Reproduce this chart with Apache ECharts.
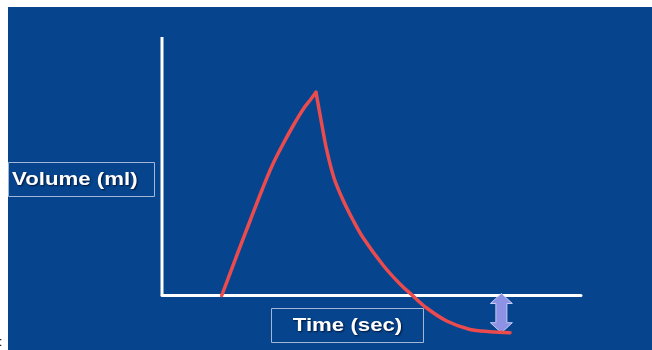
<!DOCTYPE html>
<html><head><meta charset="utf-8">
<script src="https://cdn.jsdelivr.net/npm/echarts@6/dist/echarts.min.js"></script>
<style>html,body{margin:0;padding:0;background:#fff;}#c{width:652px;height:350px;}</style>
</head><body><div id="c"></div>
<script>
// Spirometry-like volume/time trace (arbitrary units)
const timeVals   = [1.425, 1.790, 2.100, 2.387, 2.625, 2.864, 3.126, 3.389, 3.556, 3.675, 3.795, 3.931, 4.105, 4.320, 4.558, 4.804, 5.282, 5.680, 5.967, 6.317, 6.795, 7.351, 7.828, 8.305];
const volumeVals = [0.000, 1.567, 2.882, 4.081, 5.010, 5.783, 6.557, 7.253, 7.602, 7.861, 6.789, 5.629, 4.545, 3.694, 2.921, 2.224, 1.161, 0.445, 0.019, -0.484, -0.986, -1.315, -1.400, -1.439];
// vertical (volume) axis line
const vAxisTime   = [0, 0];
const vAxisVolume = [0, 10];
// residual arrow: time, from volume, to volume
const arrowTime = [8.10];
const arrowFrom = [0.0];
const arrowTo   = [-1.44];
const yLabel = 'Volume (ml)';
const xLabel = 'Time (sec)';

const curve = timeVals.map((t, i) => [t, volumeVals[i]]);
let peak = 0;
volumeVals.forEach((v, i) => { if (v > volumeVals[peak]) peak = i; });
const rising = curve.slice(0, peak + 1);
const falling = curve.slice(peak);
const vAxis = vAxisTime.map((t, i) => [t, vAxisVolume[i]]);
const arrows = arrowTime.map((t, i) => [t, arrowFrom[i], arrowTo[i]]);

const chart = echarts.init(document.getElementById('c'), null, {renderer: 'canvas'});
const font = '"Liberation Sans", Arial, sans-serif';
const redLine = {color: '#ec4b4e', width: 3.5, cap: 'round', join: 'round'};
chart.setOption({
  animation: false,
  backgroundColor: '#ffffff',
  grid: {left: 162, right: 71, top: 37, bottom: 2.8, containLabel: false},
  xAxis: {
    type: 'value', min: 0, max: 10,
    axisLine: {show: true, onZero: true, lineStyle: {color: '#ffffff', width: 3}},
    axisTick: {show: false}, axisLabel: {show: false}, splitLine: {show: false}
  },
  yAxis: {
    type: 'value', min: -2, max: 10,
    axisLine: {show: false}, axisTick: {show: false}, axisLabel: {show: false}, splitLine: {show: false}
  },
  graphic: [
    {type: 'rect', z: -100, silent: true, shape: {x: 8, y: 7, width: 644, height: 343}, style: {fill: '#06458e'}},
    {type: 'rect', z: 5, shape: {x: 8.5, y: 162.5, width: 146, height: 34}, style: {fill: 'none', stroke: '#a3b6d6', lineWidth: 1}},
    {type: 'rect', z: 5, shape: {x: 271.5, y: 308.5, width: 152, height: 34}, style: {fill: 'none', stroke: '#a3b6d6', lineWidth: 1}},
    {type: 'text', z: 6, x: 12, y: 180, scaleX: 1.17,
      style: {text: yLabel, fill: '#ffffff', font: 'bold 19px ' + font,
        align: 'left', verticalAlign: 'middle', textAlign: 'left', textVerticalAlign: 'middle',
        textShadowColor: 'rgba(0,0,20,0.75)', textShadowBlur: 2, textShadowOffsetX: 1, textShadowOffsetY: 1}},
    {type: 'text', z: 6, x: 347.5, y: 326, scaleX: 1.17,
      style: {text: xLabel, fill: '#ffffff', font: 'bold 19px ' + font,
        align: 'center', verticalAlign: 'middle', textAlign: 'center', textVerticalAlign: 'middle',
        textShadowColor: 'rgba(0,0,20,0.75)', textShadowBlur: 2, textShadowOffsetX: 1, textShadowOffsetY: 1}},
    {type: 'text', z: 6, x: -1, y: 343,
      style: {text: ':', fill: '#000000', font: '12px ' + font, align: 'left', verticalAlign: 'middle', textAlign: 'left', textVerticalAlign: 'middle'}}
  ],
  series: [
    {
      type: 'line', data: vAxis, symbol: 'none', silent: true, z: 1,
      lineStyle: {color: '#ffffff', width: 3}
    },
    {
      type: 'custom', data: arrows, z: 2, silent: true,
      renderItem: function (params, api) {
        const top = api.coord([api.value(0), api.value(1)]);
        const bot = api.coord([api.value(0), api.value(2)]);
        const cx = top[0], y1 = top[1] - 2, y2 = bot[1];
        const hw = 11, sw = 5.5, hh = 10;
        return {
          type: 'polygon',
          shape: {points: [[cx, y1], [cx + hw, y1 + hh], [cx + sw, y1 + hh], [cx + sw, y2 - hh], [cx + hw, y2 - hh],
            [cx, y2], [cx - hw, y2 - hh], [cx - sw, y2 - hh], [cx - sw, y1 + hh], [cx - hw, y1 + hh]]},
          style: {fill: '#8d92e4', stroke: '#c8cbf5', lineWidth: 1}
        };
      }
    },
    {
      type: 'line', data: rising, symbol: 'none', smooth: 0.35, silent: true, z: 3,
      lineStyle: redLine
    },
    {
      type: 'line', data: falling, symbol: 'none', smooth: 0.35, silent: true, z: 3,
      lineStyle: redLine
    }
  ]
});
</script></body></html>
